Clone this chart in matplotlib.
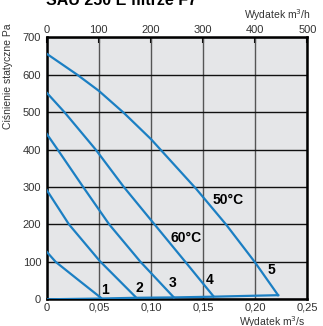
import matplotlib
matplotlib.use("Agg")
import matplotlib.pyplot as plt

# fan curves 1-5, flow m3/s vs static pressure Pa
q1 = [0.0, 0.0086, 0.0293, 0.052]
p1 = [127, 100, 54, 4]
q2 = [0.0, 0.0214, 0.051, 0.085]
p2 = [292, 200, 102, 7]
q3 = [0.0, 0.0105, 0.035, 0.060, 0.090, 0.122]
p3 = [442, 400, 300, 200, 100, 5]
q4 = [0.0, 0.017, 0.047, 0.074, 0.102, 0.133, 0.160]
p4 = [552, 500, 400, 300, 205, 100, 8]
q5 = [0.0, 0.0293, 0.050, 0.074, 0.100, 0.1434, 0.172, 0.1995, 0.222]
p5 = [656, 600, 557, 498, 428, 295, 200, 100, 11]
# bottom line joining curve ends
qs = [0.0, 0.052, 0.085, 0.122, 0.160, 0.222]
ps = [0, 2, 4, 5, 7, 11]

curve_labels = ["1", "2", "3", "4", "5"]
label_q = [0.0558, 0.0887, 0.121, 0.1564, 0.2155]
label_p = [25, 31, 43, 52, 78]
temp_labels = ["50\u00b0C", "60\u00b0C"]
temp_q = [0.174, 0.134]
temp_p = [265, 163]

x_ticks = [0, 0.05, 0.10, 0.15, 0.20, 0.25]
x_ticklabels = ["0", "0,05", "0,10", "0,15", "0,20", "0,25"]
top_ticks = [0, 100, 200, 300, 400, 500]
top_ticklabels = ["0", "100", "200", "300", "400", "500"]
y_ticks = [0, 100, 200, 300, 400, 500, 600, 700]

plt.rcParams['font.family'] = ['Liberation Sans', 'DejaVu Sans']

blue = '#1b7fc3'
fig = plt.figure(figsize=(3.23, 3.26), dpi=100)
ax = fig.add_axes([0.1446, 0.0819, 0.8068, 0.8037])
ax.set_facecolor('#e5e6e8')

for q, p in [(q1, p1), (q2, p2), (q3, p3), (q4, p4), (q5, p5), (qs, ps)]:
    ax.plot(q, p, color=blue, lw=1.6, zorder=3, solid_joinstyle='round')

for t, x, y in zip(curve_labels, label_q, label_p):
    ax.text(x, y, t, ha='center', va='center', fontsize=10, fontweight='bold', zorder=4)
for t, x, y in zip(temp_labels, temp_q, temp_p):
    ax.text(x, y, t, ha='center', va='center', fontsize=10, fontweight='bold', zorder=4)

ax.set_xlim(0, 0.25)
ax.set_ylim(0, 700)
ax.set_xticks(x_ticks)
ax.set_xticklabels(x_ticklabels)
ax.set_yticks(y_ticks)
ax.xaxis.grid(True, color='#555555', lw=1.0, zorder=1)
ax.yaxis.grid(True, color='#111111', lw=1.0, zorder=1)
ax.set_axisbelow(True)
ax.tick_params(axis='y', length=0, pad=4, labelsize=8, labelcolor='#333333')
ax.tick_params(axis='x', length=0, pad=2.5, labelsize=8, labelcolor='#333333')
for s in ax.spines.values():
    s.set_linewidth(1.8)
    s.set_color('black')

# top axis in m3/h (drawn on the same scale as the picture)
top = ax.secondary_xaxis('top', functions=(lambda v: v * 2000, lambda v: v / 2000))
top.set_xticks(top_ticks)
top.set_xticklabels(top_ticklabels)
top.tick_params(direction='in', length=4, width=1.5, pad=1.5, labelsize=8, labelcolor='#333333')

ax.set_ylabel("Ciśnienie statyczne Pa", fontsize=7.5, color='#333333')
ax.yaxis.set_label_coords(-0.13, 0.85)

fig.text(0.962, 0.953, "Wydatek m$^3$/h", ha='right', va='center', fontsize=7.5, color='#333333')
fig.text(0.945, 0.012, "Wydatek m$^3$/s", ha='right', va='center', fontsize=7.5, color='#333333')
fig.text(0.143, 0.985, "SAU 250 E filtrze F7", ha='left', va='baseline', fontsize=11.5,
         fontweight='bold')

fig.savefig("out.png", dpi=100)
